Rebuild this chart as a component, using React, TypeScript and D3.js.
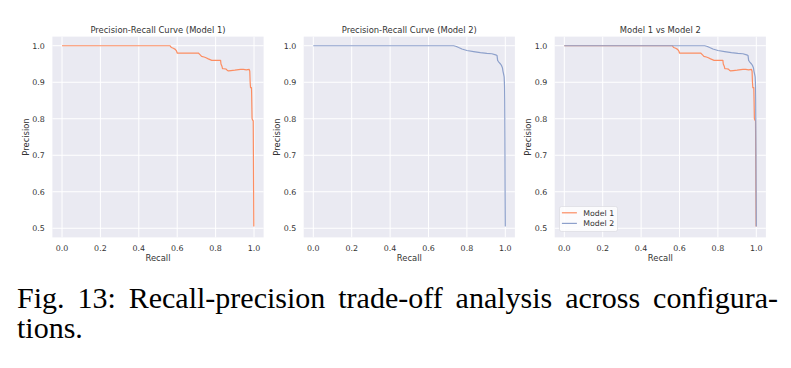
import React, { useEffect, useRef } from 'react'
import * as d3 from 'd3'

// precision-recall points, read in order of increasing recall
const model1Recall = [0.0, 0.562, 0.57, 0.58, 0.59, 0.597, 0.6, 0.71, 0.72, 0.727, 0.74, 0.75, 0.762, 0.78, 0.826, 0.828, 0.833, 0.836, 0.844, 0.855, 0.862, 0.866, 0.88, 0.9, 0.93, 0.945, 0.96, 0.975, 0.978, 0.98, 0.982, 0.987, 0.988, 0.99, 0.994, 0.996, 0.997, 0.998, 0.999]
const model1Precision = [1.0, 1.0, 0.995, 0.993, 0.99, 0.985, 0.98, 0.98, 0.975, 0.971, 0.969, 0.967, 0.964, 0.96, 0.96, 0.95, 0.944, 0.937, 0.937, 0.936, 0.932, 0.931, 0.932, 0.933, 0.935, 0.935, 0.934, 0.935, 0.93, 0.9, 0.885, 0.885, 0.86, 0.8, 0.795, 0.795, 0.7, 0.6, 0.505]

const model2Recall = [0.0, 0.731, 0.745, 0.757, 0.774, 0.8, 0.835, 0.87, 0.904, 0.93, 0.95, 0.957, 0.96, 0.965, 0.975, 0.979, 0.985, 0.988, 0.991, 0.994, 0.996, 0.997, 0.998, 0.999, 1.0]
const model2Precision = [1.0, 1.0, 0.998, 0.995, 0.991, 0.987, 0.984, 0.981, 0.979, 0.978, 0.975, 0.973, 0.96, 0.956, 0.95, 0.947, 0.94, 0.93, 0.923, 0.915, 0.89, 0.85, 0.75, 0.6, 0.505]

const xTicks = [0.0, 0.2, 0.4, 0.6, 0.8, 1.0]
const yTicks = [0.5, 0.6, 0.7, 0.8, 0.9, 1.0]

const panelTitles = ['Precision-Recall Curve (Model 1)', 'Precision-Recall Curve (Model 2)', 'Model 1 vs Model 2']
const panelSeries = [[0], [1], [0, 1]]
const seriesNames = ['Model 1', 'Model 2']
const seriesColors = ['#fc8d62', '#8da0cb']

const captionLines = ['Fig. 13: Recall-precision trade-off analysis across configura-', 'tions.']

const W = 791
const H = 368
const panelLeft = [52.4, 303.7, 554.7]
const plotW = 211.2
const plotTop = 36.6
const plotBottom = 237.4
const sans = 'DejaVu Sans, sans-serif'
const textColor = '#333'

const App: React.FC = () => {
    const ref = useRef<SVGSVGElement | null>(null)

    useEffect(() => {
        if (!ref.current) return
        const svg = d3.select(ref.current)
        svg.selectAll('*').remove()

        const series = [
            model1Recall.map((r, i) => [r, model1Precision[i]] as [number, number]),
            model2Recall.map((r, i) => [r, model2Precision[i]] as [number, number]),
        ]

        panelLeft.forEach((left, p) => {
            const x = d3.scaleLinear().domain([-0.05, 1.05]).range([left, left + plotW])
            const y = d3.scaleLinear().domain([0.475, 1.025]).range([plotBottom, plotTop])
            const g = svg.append('g')

            g.append('rect')
                .attr('x', left)
                .attr('y', plotTop)
                .attr('width', plotW)
                .attr('height', plotBottom - plotTop)
                .attr('fill', '#eaeaf2')

            g.selectAll('.gx').data(xTicks).enter().append('line')
                .attr('x1', d => x(d)).attr('x2', d => x(d))
                .attr('y1', plotTop).attr('y2', plotBottom)
                .attr('stroke', '#fff').attr('stroke-width', 1)

            g.selectAll('.gy').data(yTicks).enter().append('line')
                .attr('y1', d => y(d)).attr('y2', d => y(d))
                .attr('x1', left).attr('x2', left + plotW)
                .attr('stroke', '#fff').attr('stroke-width', 1)

            g.selectAll('.tx').data(xTicks).enter().append('text')
                .attr('x', d => x(d))
                .attr('y', 250.5)
                .attr('text-anchor', 'middle')
                .style('font-family', sans).style('font-size', '7.9px').style('fill', textColor)
                .text(d => d.toFixed(1))

            g.selectAll('.ty').data(yTicks).enter().append('text')
                .attr('x', left - 7.5)
                .attr('y', d => y(d))
                .attr('dy', '0.36em')
                .attr('text-anchor', 'end')
                .style('font-family', sans).style('font-size', '7.9px').style('fill', textColor)
                .text(d => d.toFixed(1))

            g.append('text')
                .attr('x', left + plotW / 2)
                .attr('y', 260.5)
                .attr('text-anchor', 'middle')
                .style('font-family', sans).style('font-size', '8.4px').style('fill', textColor)
                .text('Recall')

            g.append('text')
                .attr('transform', `translate(${left - 23.5},${(plotTop + plotBottom) / 2}) rotate(-90)`)
                .attr('text-anchor', 'middle')
                .style('font-family', sans).style('font-size', '8.4px').style('fill', textColor)
                .text('Precision')

            g.append('text')
                .attr('x', left + plotW / 2)
                .attr('y', 32.7)
                .attr('text-anchor', 'middle')
                .style('font-family', sans).style('font-size', '8.4px').style('fill', textColor)
                .text(panelTitles[p])

            const line = d3.line<[number, number]>().x(d => x(d[0])).y(d => y(d[1]))
            panelSeries[p].forEach(s => {
                g.append('path')
                    .attr('d', line(series[s]) as string)
                    .attr('fill', 'none')
                    .attr('stroke', seriesColors[s])
                    .attr('stroke-width', 1.2)
                    .attr('stroke-linejoin', 'round')
            })

            if (panelSeries[p].length > 1) {
                const lg = g.append('g').attr('transform', `translate(${left + 4.8},206.5)`)
                lg.append('rect')
                    .attr('width', 58)
                    .attr('height', 25)
                    .attr('rx', 2)
                    .attr('fill', '#fff').attr('fill-opacity', 0.8)
                    .attr('stroke', '#d6d6de').attr('stroke-width', 0.6)
                panelSeries[p].forEach((s, i) => {
                    const yy = 6.3 + i * 10.6
                    lg.append('line')
                        .attr('x1', 2.4).attr('x2', 17.4)
                        .attr('y1', yy).attr('y2', yy)
                        .attr('stroke', seriesColors[s]).attr('stroke-width', 1.2)
                    lg.append('text')
                        .attr('x', 23.8).attr('y', yy).attr('dy', '0.36em')
                        .style('font-family', sans).style('font-size', '7.8px').style('fill', textColor)
                        .text(seriesNames[s])
                })
            }
        })

        // caption: first line justified across the column, last line left aligned
        const capLeft = 17
        const capRight = 778
        const capStyle = (t: d3.Selection<SVGTextElement, unknown, null, undefined>) =>
            t.style('font-family', 'Liberation Serif, Times New Roman, serif').style('font-size', '30px').style('fill', '#000')

        const words = captionLines[0].split(' ')
        const nodes = words.map(w => capStyle(svg.append('text').attr('y', 308.3)).text(w))
        const widths = nodes.map(n => (n.node() as SVGTextElement).getComputedTextLength())
        const gap = (capRight - capLeft - d3.sum(widths)) / (words.length - 1)
        let cx = capLeft
        nodes.forEach((n, i) => {
            n.attr('x', cx)
            cx += widths[i] + gap
        })
        capStyle(svg.append('text').attr('x', capLeft).attr('y', 338.3)).text(captionLines[1])
    }, [])

    return <svg ref={ref} width={W} height={H} style={{ position: 'absolute', left: 0, top: 0, background: '#fff' }} />
}

export default App
